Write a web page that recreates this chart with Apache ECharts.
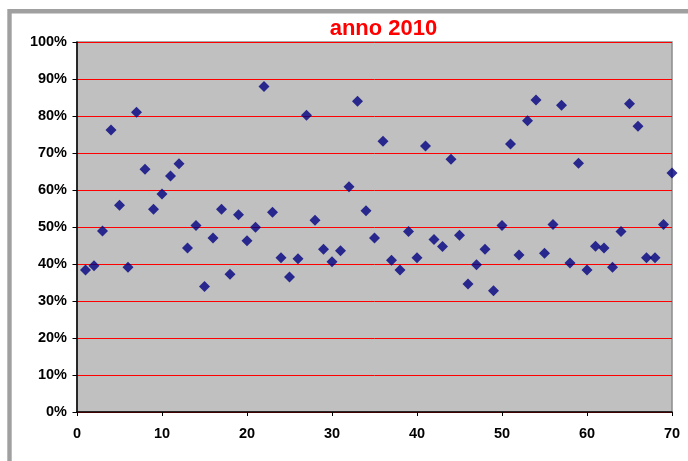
<!DOCTYPE html>
<html>
<head>
<meta charset="utf-8">
<title>anno 2010</title>
<script src="https://cdn.jsdelivr.net/npm/echarts@6/dist/echarts.min.js"></script>
<style>
  html, body { margin: 0; padding: 0; background: #ffffff; }
  #chart { width: 688px; height: 461px; }
</style>
</head>
<body>
<div id="chart"></div>
<script>
// Observation index along the x axis
var obsIndex = [
  1, 2, 3, 4, 5, 6, 7, 8, 9, 10,
  11, 12, 13, 14, 15, 16, 17, 18, 19, 20,
  21, 22, 23, 24, 25, 26, 27, 28, 29, 30,
  31, 32, 33, 34, 35, 36, 37, 38, 39, 40,
  41, 42, 43, 44, 45, 46, 47, 48, 49, 50,
  51, 52, 53, 54, 55, 56, 57, 58, 59, 60,
  61, 62, 63, 64, 65, 66, 67, 68, 69, 70
];

// Percentage value for each observation (2010)
var pctValues = [
  38.4, 39.5, 48.9, 76.2, 55.9, 39.1, 81.0, 65.6, 54.8, 58.9,
  63.8, 67.1, 44.3, 50.4, 33.9, 47.0, 54.8, 37.2, 53.3, 46.3,
  49.9, 88.0, 54.0, 41.7, 36.5, 41.4, 80.2, 51.8, 44.0, 40.6,
  43.6, 60.9, 84.0, 54.4, 47.0, 73.2, 41.0, 38.4, 48.8, 41.7,
  71.9, 46.6, 44.7, 68.3, 47.8, 34.6, 39.8, 44.0, 32.8, 50.4,
  72.4, 42.4, 78.7, 84.3, 42.9, 50.7, 82.9, 40.3, 67.2, 38.4,
  44.8, 44.3, 39.1, 48.8, 83.3, 77.2, 41.7, 41.7, 50.7, 64.6
];

var xTicks = [0, 10, 20, 30, 40, 50, 60, 70];
var chartTitle = 'anno 2010';

var points = obsIndex.map(function (x, i) { return [x, pctValues[i]]; });

var FONT = '"Liberation Sans", Arial, Helvetica, sans-serif';

var chart = echarts.init(document.getElementById('chart'), null, { renderer: 'canvas' });

chart.setOption({
  backgroundColor: '#ffffff',
  animation: false,
  graphic: [
    {
      // outer chart-area frame
      type: 'rect',
      z: -10,
      silent: true,
      shape: { x: 9.5, y: 11.2, width: 800, height: 600 },
      style: { fill: '#ffffff', stroke: '#a0a0a0', lineWidth: 4.4 }
    },
    {
      type: 'text',
      silent: true,
      style: {
        text: chartTitle,
        x: 383.5,
        y: 28.5,
        textAlign: 'center',
        textVerticalAlign: 'middle',
        fill: '#ff0000',
        font: 'bold 22px ' + FONT
      }
    }
  ],
  grid: {
    left: 77,
    right: 16,
    top: 42,
    bottom: 49,
    show: true,
    backgroundColor: '#c0c0c0',
    borderColor: '#8c8c8c',
    borderWidth: 1.5
  },
  xAxis: {
    type: 'value',
    min: 0,
    max: 70,
    interval: 10,
    axisLine: { show: true, onZero: false, lineStyle: { color: '#000000', width: 1.5 } },
    axisTick: { show: true, inside: false, length: 4, lineStyle: { color: '#000000', width: 1 } },
    splitLine: { show: false },
    axisLabel: {
      margin: 14,
      color: '#000000',
      fontFamily: FONT,
      fontWeight: 'bold',
      fontSize: 14.5,
      formatter: function (v) { return xTicks.indexOf(v) >= 0 ? String(v) : ''; }
    }
  },
  yAxis: {
    type: 'value',
    min: 0,
    max: 100,
    interval: 10,
    axisLine: { show: true, onZero: false, lineStyle: { color: '#000000', width: 1.5 } },
    axisTick: { show: true, inside: false, length: 4.5, lineStyle: { color: '#000000', width: 1 } },
    splitLine: { show: true, lineStyle: { color: '#ff0000', width: 1 } },
    axisLabel: {
      margin: 10,
      color: '#000000',
      fontFamily: FONT,
      fontWeight: 'bold',
      fontSize: 14.5,
      formatter: '{value}%'
    }
  },
  series: [
    {
      type: 'scatter',
      data: points,
      symbol: 'diamond',
      symbolSize: 11,
      itemStyle: { color: '#000080' },
      z: 5
    }
  ]
});
</script>
</body>
</html>
